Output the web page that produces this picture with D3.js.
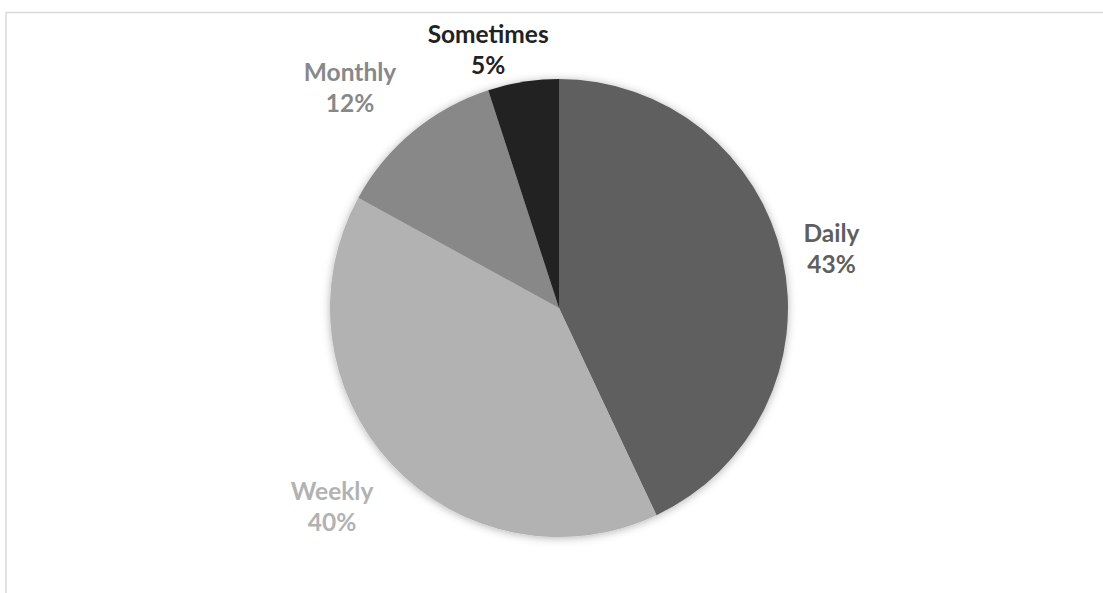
<!DOCTYPE html>
<html>
<head>
<meta charset="utf-8">
<script src="https://cdn.jsdelivr.net/npm/d3@7"></script>
<style>
  html, body { margin: 0; padding: 0; background: #ffffff; }
  svg { display: block; }
  text { font-family: Lato, "Open Sans", sans-serif; font-weight: 700; }
</style>
</head>
<body>
<svg id="chart" width="1103" height="593"></svg>
<script>
// Frequency shares (percent), drawn clockwise from 12 o'clock
const categories = ["Daily", "Weekly", "Monthly", "Sometimes"];
const shares = [43, 40, 12, 5];
const sliceColors = ["#5f5f5f", "#b2b2b2", "#888888", "#222222"];

// Label placement: nudges from the point on the rim at each slice's middle angle
const labelNudge = {
  Daily:     { dx: 49,  dy: -16 },
  Weekly:    { dx: -60, dy: 35 },
  Monthly:   { dx: -63, dy: -51 },
  Sometimes: { dx: -35, dy: -39 }
};

const W = 1103, H = 593;
const cx = 559, cy = 308, radius = 229;
const fontSize = 24.5, lineGap = 31;

const svg = d3.select("#chart");

// chart-area frame
svg.append("rect")
  .attr("x", 6).attr("y", 12.5)
  .attr("width", W + 20).attr("height", H + 20)
  .attr("fill", "#ffffff")
  .attr("stroke", "#d9d9d9")
  .attr("stroke-width", 1.5);

// soft shadow around the pie
const defs = svg.append("defs");
const f = defs.append("filter").attr("id", "pieShadow")
  .attr("x", "-10%").attr("y", "-10%").attr("width", "120%").attr("height", "120%");
f.append("feDropShadow")
  .attr("dx", 0).attr("dy", 1)
  .attr("stdDeviation", 4)
  .attr("flood-color", "#000000")
  .attr("flood-opacity", 0.3);

const data = categories.map((c, i) => ({ name: c, value: shares[i], color: sliceColors[i] }));

const pie = d3.pie().value(d => d.value).sort(null);
const arcs = pie(data);
const arc = d3.arc().innerRadius(0).outerRadius(radius);

const g = svg.append("g").attr("transform", `translate(${cx},${cy})`);

g.append("g").attr("filter", "url(#pieShadow)")
  .selectAll("path")
  .data(arcs)
  .join("path")
  .attr("d", arc)
  .attr("fill", d => d.data.color);

// data labels: category name over percentage, in the slice colour
const labels = g.selectAll("text.lbl")
  .data(arcs)
  .join("text")
  .attr("class", "lbl")
  .attr("text-anchor", "middle")
  .attr("font-size", fontSize)
  .attr("fill", d => d.data.color)
  .attr("transform", d => {
    const mid = (d.startAngle + d.endAngle) / 2;
    const px = radius * Math.sin(mid), py = -radius * Math.cos(mid);
    const n = labelNudge[d.data.name];
    return `translate(${px + n.dx},${py + n.dy})`;
  });

labels.append("tspan").attr("x", 0).attr("y", 0).text(d => d.data.name);
labels.append("tspan").attr("x", 0).attr("y", lineGap).text(d => d.data.value + "%");
</script>
</body>
</html>
